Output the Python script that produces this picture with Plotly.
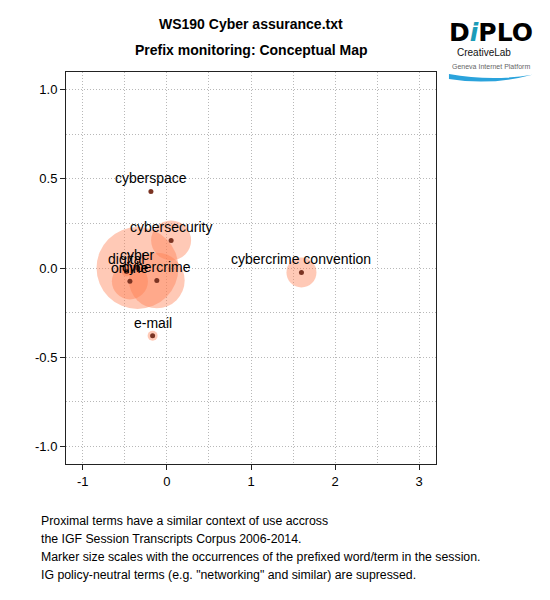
import plotly.graph_objects as go

# Conceptual map of prefixed terms (WS190 Cyber assurance)
terms = ["cyberspace", "cybersecurity", "cyber", "digital", "online",
         "cybercrime", "cybercrime convention", "e-mail"]
x_pos = [-0.19, 0.05, -0.35, -0.48, -0.44, -0.12, 1.60, -0.17]
y_pos = [0.43, 0.155, 0.0, -0.02, -0.075, -0.07, -0.025, -0.38]
occurrences = [0, 16, 67, 1, 13, 31, 9, 1]

x_ticks = [-1, 0, 1, 2, 3]
x_tick_labels = ["-1", "0", "1", "2", "3"]
y_ticks = [-1.0, -0.5, 0.0, 0.5, 1.0]
y_tick_labels = ["-1.0", "-0.5", "0.0", "0.5", "1.0"]

footer_lines = [
    "Proximal terms have a similar context of use accross",
    "the IGF Session Transcripts Corpus 2006-2014.",
    "Marker size scales with the occurrences of the prefixed word/term in the session.",
    "IG policy-neutral terms (e.g. \"networking\" and similar) are supressed.",
]

FONT = "Liberation Sans, Arial, sans-serif"
GRID = "#b8b8b8"

fig = go.Figure()

# bubbles
fig.add_trace(go.Scatter(
    x=x_pos, y=y_pos, mode="markers",
    marker=dict(size=occurrences, sizemode="area", sizeref=0.02,
                color="rgba(255,127,80,0.6)", line=dict(width=0)),
    hoverinfo="skip", showlegend=False,
))

# centre dots
fig.add_trace(go.Scatter(
    x=x_pos, y=y_pos, mode="markers", text=terms,
    marker=dict(size=5, color="#7a3322", line=dict(width=0)),
    hoverinfo="text", showlegend=False,
))

axis_common = dict(
    showline=True, linecolor="#222", linewidth=1, mirror=True,
    ticks="outside", ticklen=5, tickcolor="#222",
    tickfont=dict(family=FONT, size=13, color="black"),
    showgrid=True, gridcolor=GRID, griddash="1px,2px", gridwidth=1,
    zeroline=False,
)

fig.update_xaxes(range=[-1.2, 3.2], tickvals=x_ticks, ticktext=x_tick_labels,
                 minor=dict(dtick=0.5, showgrid=True, gridcolor=GRID,
                            griddash="1px,2px", ticks=""),
                 **axis_common)
fig.update_yaxes(range=[-1.1, 1.1], tickvals=y_ticks, ticktext=y_tick_labels,
                 minor=dict(dtick=0.25, showgrid=True, gridcolor=GRID,
                            griddash="1px,2px", ticks=""),
                 **axis_common)

annotations = [
    dict(text="<b>WS190 Cyber assurance.txt</b>", x=0.5, y=1.122,
         font=dict(size=14)),
    dict(text="<b>Prefix monitoring: Conceptual Map</b>", x=0.5, y=1.056,
         font=dict(size=14)),
    # logo
    dict(text="<b>D<i><span style='color:#1b9cb8'>i</span></i>PLO</b>",
         x=1.149, y=1.102, font=dict(size=25, family="DejaVu Sans")),
    dict(text="CreativeLab", x=1.05, y=1.051, xanchor="left",
         font=dict(size=10, color="#111")),
    dict(text="Geneva Internet Platform", x=1.038, y=1.015, xanchor="left",
         font=dict(size=7, color="#666")),
]
for i, line in enumerate(footer_lines):
    annotations.append(dict(text=line, x=-0.074, y=-0.145 - 0.046 * i,
                            xanchor="left", font=dict(size=12.3)))

for a in annotations:
    a.setdefault("xanchor", "center")
    a.update(xref="paper", yref="paper", showarrow=False, yanchor="middle")
    a["font"].setdefault("family", FONT)
    a["font"].setdefault("color", "black")

# term labels sit just above their points
for term, xv, yv in zip(terms, x_pos, y_pos):
    annotations.append(dict(text=term, x=xv, y=yv, xref="x", yref="y",
                            showarrow=False, yanchor="middle", yshift=13,
                            font=dict(family=FONT, size=14, color="black")))

# the page adds an 8px body margin, so the figure is 8px smaller and shifted
fig.update_layout(
    width=542, height=592,
    margin=dict(l=58, r=114, t=64, b=136),
    plot_bgcolor="white", paper_bgcolor="white",
    annotations=annotations,
    shapes=[dict(type="path", xref="paper", yref="paper",
                 path="M 1.035 0.995 Q 1.15 0.975 1.26 0.993 Q 1.15 0.965 1.035 0.982 Z",
                 fillcolor="#2aa3dc", line=dict(width=0))],
    showlegend=False,
)

fig.write_html("out.html")
